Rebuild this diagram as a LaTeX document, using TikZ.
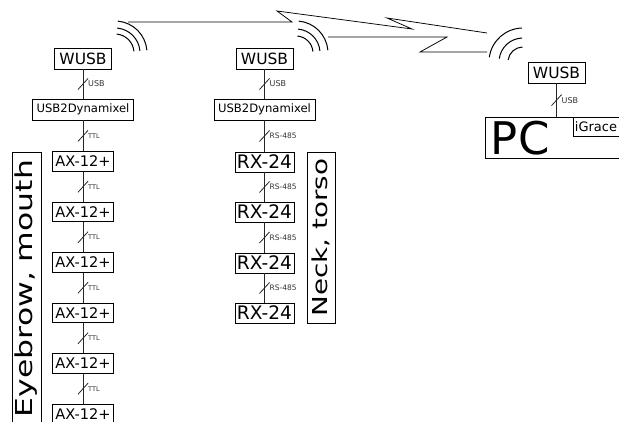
\documentclass[tikz,border=0pt]{standalone}
\usepackage{fontspec}
\setmainfont{DejaVu Sans}
\usepackage{graphicx}

\newcommand{\fsz}[1]{\fontsize{#1}{#1}\selectfont}

% bus wire between two boxes, with a slash and its label
\newcommand{\buswire}[4]{%
  \draw[wire] (#1.south) -- coordinate (#4) (#1.south |- #2.north);
  \draw[wire] ([shift={(-5,5.5)}]#4) -- ([shift={(5,-5.5)}]#4);
  \node[buslabel, anchor=west] (#4-lbl) at ([xshift=5]#4) {#3};}

\begin{document}
\begin{tikzpicture}[x=1pt, y=-1pt,
    box/.style={draw, line width=0.8pt, inner sep=0pt},
    wusb/.style={box, minimum width=57pt, minimum height=21pt, font=\fsz{15.5}},
    dynbox/.style={box, minimum width=101pt, minimum height=21pt, font=\fsz{11.6}},
    axbox/.style={box, minimum width=61pt, minimum height=19.5pt, font=\fsz{14.6}},
    rxbox/.style={box, minimum width=59pt, minimum height=20pt, font=\fsz{18.6}},
    sidebox/.style={box, rotate=90},
    wire/.style={line width=0.8pt, black!85},
    wave/.style={line width=1pt},
    bolt/.style={line width=0.75pt},
    buslabel/.style={inner sep=0pt, text=black!80},
  ]
  \useasboundingbox (0,0) rectangle (619,422);
  \fill[white] (0,0) rectangle (619,422);
  \clip (0,0) rectangle (619,422);

  % left chain
  \node[wusb]   (wusbL) at (83,58.5)  {WUSB};
  \node[dynbox] (dynL)  at (83,109.5) {USB2Dynamixel};
  \node[axbox]  (ax1)   at (83,161.5) {AX-12+};
  \node[axbox]  (ax2)   at (83,212)   {AX-12+};
  \node[axbox]  (ax3)   at (83,262.5) {AX-12+};
  \node[axbox]  (ax4)   at (83,313)   {AX-12+};
  \node[axbox]  (ax5)   at (83,363.5) {AX-12+};
  \node[axbox]  (ax6)   at (83,414)   {AX-12+};
  \node[sidebox, minimum width=273pt, minimum height=29pt, font=\fsz{23.3}]
    (eyebrow) at (26.5,288.5) {\scalebox{1.35}[1]{Eyebrow, mouth}};

  \buswire{wusbL}{dynL}{\fsz{8}USB}{mL0}
  \buswire{dynL}{ax1}{\fsz{6.5}TTL}{mL1}
  \buswire{ax1}{ax2}{\fsz{6.5}TTL}{mL2}
  \buswire{ax2}{ax3}{\fsz{6.5}TTL}{mL3}
  \buswire{ax3}{ax4}{\fsz{6.5}TTL}{mL4}
  \buswire{ax4}{ax5}{\fsz{6.5}TTL}{mL5}
  \buswire{ax5}{ax6}{\fsz{6.5}TTL}{mL6}

  % middle chain
  \node[wusb]   (wusbM) at (264.5,58.5)  {WUSB};
  \node[dynbox] (dynM)  at (264.5,109.5) {USB2Dynamixel};
  \node[rxbox]  (rx1)   at (264.5,162)   {RX-24};
  \node[rxbox]  (rx2)   at (264.5,212)   {RX-24};
  \node[rxbox]  (rx3)   at (264.5,263)   {RX-24};
  \node[rxbox]  (rx4)   at (264.5,313)   {RX-24};
  \node[sidebox, minimum width=171pt, minimum height=28pt, font=\fsz{20.6}]
    (neck) at (321,237.5) {\scalebox{1.35}[1]{Neck, torso}};

  \buswire{wusbM}{dynM}{\fsz{8}USB}{mM0}
  \buswire{dynM}{rx1}{\fsz{7.5}RS-485}{mM1}
  \buswire{rx1}{rx2}{\fsz{7.5}RS-485}{mM2}
  \buswire{rx2}{rx3}{\fsz{7.5}RS-485}{mM3}
  \buswire{rx3}{rx4}{\fsz{7.5}RS-485}{mM4}

  % PC side
  \node[wusb] (wusbR) at (556.5,72.5) {WUSB};
  \node[box, anchor=north west, minimum width=160pt, minimum height=41pt, font=\fsz{45}]
    (pc) at (485,117) {\makebox[160pt][l]{\hspace{5.5pt}PC}};
  \node[box, anchor=north west, minimum height=19pt, font=\fsz{13}]
    (igrace) at (573,117) {\makebox[60pt][l]{\hspace{1.5pt}iGrace}};
  \buswire{wusbR}{pc}{\fsz{8}USB}{mR0}

  % antennas
  \coordinate (antL) at (115,53);
  \coordinate (antM) at (296,53);
  \coordinate (antR) at (523,62);
  \foreach \r in {19,25,32} {
    \draw[wave] ([shift={(-85:\r)}]antL) arc (-85:-5:\r);
  }
  \foreach \r in {17,24,32} {
    \draw[wave] ([shift={(-85:\r)}]antM) arc (-85:-5:\r);
  }
  \foreach \r in {15,24,34} {
    \draw[wave] ([shift={(-92:\r)}]antR) arc (-92:-172:\r);
  }

  % radio links
  \draw[bolt] (128,22) -- (292,22) -- (277,11) -- (412,29) -- (387,18) -- (487,33);
  \draw[bolt] (328,37) -- (447,37) -- (420,52) -- (487,52);
\end{tikzpicture}
\end{document}
